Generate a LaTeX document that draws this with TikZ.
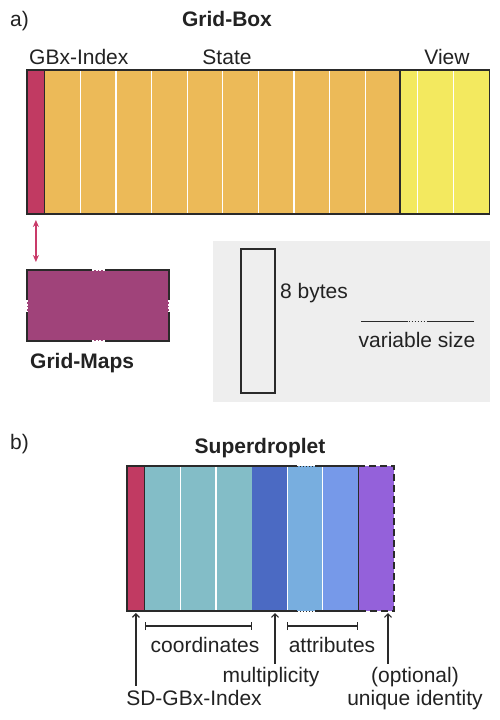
\documentclass[tikz,border=0pt]{standalone}
\usepackage{fontspec}
\setmainfont{Liberation Sans}
\usetikzlibrary{arrows.meta}
\definecolor{idxred}{HTML}{C13A62}
\definecolor{stateor}{HTML}{ECBA58}
\definecolor{viewyel}{HTML}{F3E95F}
\definecolor{mapmag}{HTML}{A0437A}
\definecolor{coordteal}{HTML}{83BDC7}
\definecolor{multblue}{HTML}{4B6AC3}
\definecolor{attrA}{HTML}{78AEDF}
\definecolor{attrB}{HTML}{7699E9}
\definecolor{idpurple}{HTML}{9461DA}
\definecolor{legendgray}{HTML}{EEEEEE}
\definecolor{arrowpink}{HTML}{C93A69}
\definecolor{ink}{HTML}{222222}
\definecolor{edge}{HTML}{2A2A2A}
\begin{document}
\begin{tikzpicture}[x=1pt,y=-1pt,
 lbl/.style={font=\fontsize{21}{25}\selectfont, text=ink, inner sep=0pt, anchor=base},
 ttl/.style={lbl, font=\fontsize{21}{25}\selectfont\bfseries},
 cellbox/.style={inner sep=0pt, outer sep=0pt, anchor=north west, minimum width=#1},
 gbcell/.style={cellbox=#1, minimum height=144pt},
 sdcell/.style={cellbox=#1, minimum height=145pt},
 edgeline/.style={draw=edge, line width=1.3pt},
 sepline/.style={draw=white, line width=1.3pt},
 dotgap/.style={draw=edge, line width=1pt, dash pattern=on 1pt off 2pt},
 whitegap/.style={draw=white, line width=1.3pt, dash pattern=on 2pt off 1.5pt},
 ptr/.style={draw=edge, line width=1.2pt, -{Straight Barb[length=3.5pt,width=7pt]}},
 brack/.style={draw=edge, line width=1.1pt, {Bar[width=8pt]}-{Bar[width=8pt]}},
]
\useasboundingbox (0,0) rectangle (500,720);
\fill[white] (0,0) rectangle (500,720);

% ---------------- a) Grid-Box
\node[lbl, anchor=base west] (alabel) at (10,27) {a)};
\node[ttl] (gbtitle) at (227,27) {Grid-Box};
\node[lbl, anchor=base west] (lidx) at (29,64) {GBx-Index};
\node[lbl] (lstate) at (227,64) {State};
\node[lbl] (lview) at (447,64) {View};

\node[gbcell=17.8pt, fill=idxred] (gbidx) at (27,70) {};
\node[gbcell=355.2pt, fill=stateor] (gbstate) at (44.8,70) {};
\node[gbcell=89.2pt, fill=viewyel] (gbview) at (400,70) {};
\foreach \i in {1,...,9}
  \draw[sepline] ([xshift=\i*35.6pt]gbstate.north west) -- ([xshift=\i*35.6pt]gbstate.south west);
\foreach \i in {0.5,1.5}
  \draw[sepline] ([xshift=\i*35.6pt]gbview.north west) -- ([xshift=\i*35.6pt]gbview.south west);
\draw[edgeline] (gbidx.north west) rectangle (gbview.south east);
\draw[edgeline] (gbidx.north east) -- (gbidx.south east);
\draw[edgeline] (gbview.north west) -- (gbview.south west);

% ---------------- Grid-Maps
\node[cellbox=142pt, minimum height=71pt, fill=mapmag] (gmap) at (27,270) {};
\draw[edgeline] (92,270) -| (27,300);
\draw[edgeline] (27,312) |- (92,341);
\draw[edgeline] (105,341) -| (169,312);
\draw[edgeline] (169,300) |- (105,270);
\draw[whitegap] (92,270) -- (105,270);
\draw[whitegap] (92,341) -- (105,341);
\draw[whitegap] (27,300) -- (27,312);
\draw[whitegap] (169,300) -- (169,312);
\node[ttl, anchor=base west] (gmlabel) at (30,368) {Grid-Maps};
\draw[arrowpink, line width=1.2pt, {Stealth[length=7pt,width=6pt]}-{Stealth[length=7pt,width=6pt]}]
  ([yshift=-6pt]gbidx.south) -- ([yshift=8pt]gbidx.south |- gmap.north);

% ---------------- legend
\node[cellbox=277pt, minimum height=161pt, fill=legendgray] (legend) at (213,241) {};
\node[cellbox=34pt, minimum height=144pt, draw=edge, line width=1.3pt] (bytebox) at (241,249) {};
\node[lbl, anchor=base west] (lbytes) at (280,298) {8 bytes};
\coordinate (vsl) at (361,321.5);
\coordinate (vsr) at (474,321.5);
\draw[edgeline] (vsl) -- ++(47,0);
\draw[edgeline] (vsr) -- ++(-47,0);
\draw[dotgap] ([xshift=47.5pt]vsl) -- ([xshift=-47pt]vsr);
\node[lbl] (lvar) at (417,347) {variable size};

% ---------------- b) Superdroplet
\node[lbl, anchor=base west] (blabel) at (10,449) {b)};
\node[ttl] (sdtitle) at (260,453) {Superdroplet};

\node[sdcell=17.8pt, fill=idxred] (sdidx) at (127,466) {};
\node[sdcell=106.8pt, fill=coordteal] (sdcoord) at (144.8,466) {};
\node[sdcell=35.6pt, fill=multblue] (sdmult) at (251.6,466) {};
\node[sdcell=35.6pt, fill=attrA] (sdattrA) at (287.2,466) {};
\node[sdcell=35.6pt, fill=attrB] (sdattrB) at (322.8,466) {};
\node[sdcell=35.6pt, fill=idpurple] (sdid) at (358.4,466) {};
\foreach \i in {1,2}
  \draw[sepline] ([xshift=\i*35.6pt]sdcoord.north west) -- ([xshift=\i*35.6pt]sdcoord.south west);
\draw[sepline] (sdattrA.north west) -- (sdattrA.south west);
\draw[sepline] (sdattrB.north west) -- (sdattrB.south west);

\draw[edgeline] (297,466) -| (sdidx.south west) -- (297,611);
\draw[edgeline] (315,466) -- (sdid.north west) -- (sdid.south west) -- (315,611);
\draw[edgeline] (sdidx.north east) -- (sdidx.south east);
\draw[edgeline, dash pattern=on 7pt off 4pt] (sdid.north west) -- (sdid.north east) -- (sdid.south east) -- (sdid.south west);
\draw[dotgap] (297,466) -- (315,466);
\draw[dotgap] (297,611) -- (315,611);

\draw[brack] ([yshift=-15pt]sdcoord.south west) -- ([yshift=-15pt]sdcoord.south east);
\draw[brack] ([yshift=-15pt]sdattrA.south west) -- ([yshift=-15pt]sdattrB.south east);

\node[lbl] (lcoord) at (205,652) {coordinates};
\node[lbl] (lattr) at (332,652) {attributes};
\node[lbl] (lmult) at (271,682) {multiplicity};
\node[lbl] (lopt) at (415,682) {(optional)};
\node[lbl] (lsdidx) at (194,705) {SD-GBx-Index};
\node[lbl] (luid) at (415,705) {unique identity};

\draw[ptr] ([yshift=4pt]lsdidx.north -| sdidx.south) -- ([yshift=-2pt]sdidx.south);
\draw[ptr] ([xshift=4pt,yshift=3pt]lmult.north) -- ([xshift=4pt,yshift=-2pt]lmult.north |- sdmult.south);
\draw[ptr] ([xshift=-27pt,yshift=3pt]lopt.north) -- ([xshift=-27pt,yshift=-2pt]lopt.north |- sdid.south);
\end{tikzpicture}
\end{document}
